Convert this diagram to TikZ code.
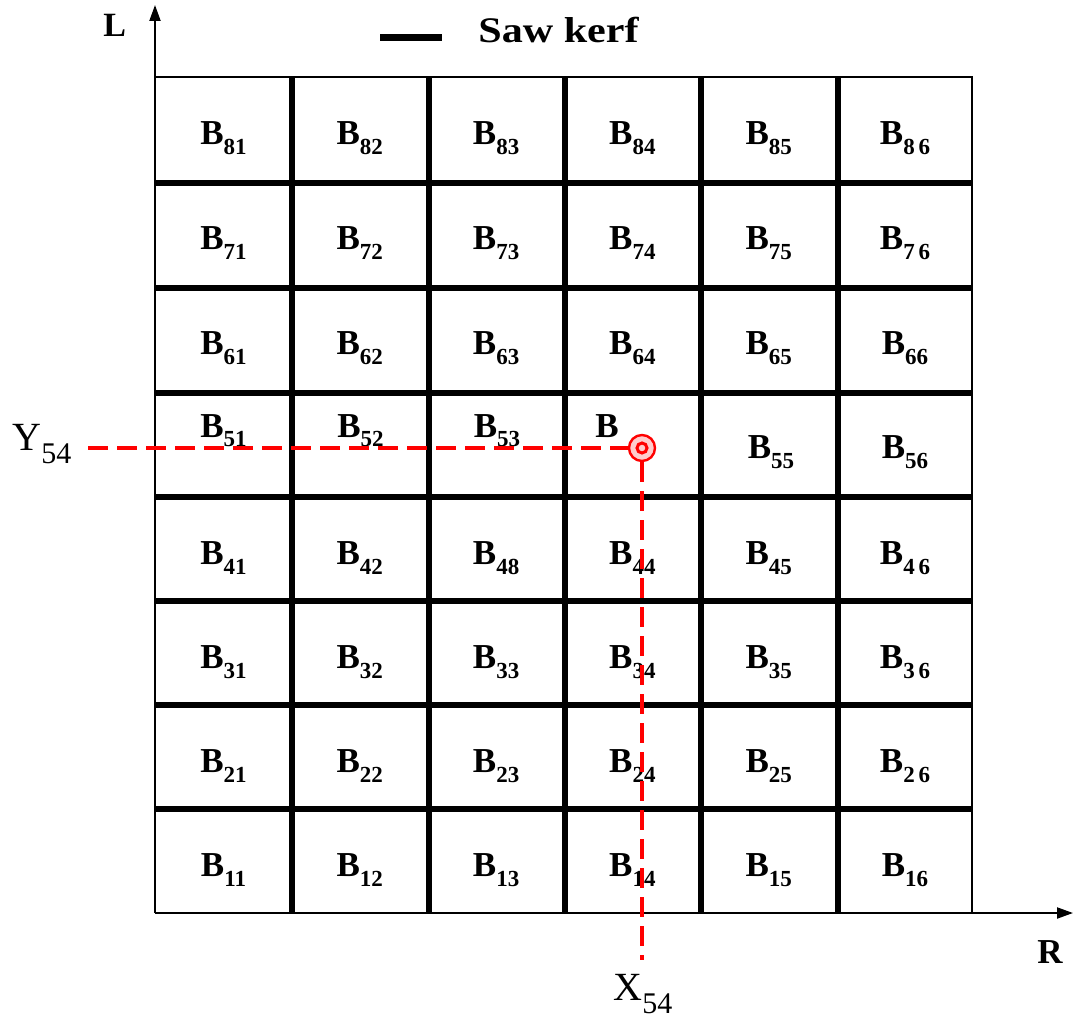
\documentclass[tikz,border=0pt]{standalone}
\usepackage{fontspec}
\setmainfont{Liberation Serif}
\usetikzlibrary{arrows.meta}

\newcommand{\blk}[1]{{\fontsize{17.5}{20}\selectfont\bfseries B\raisebox{-5pt}{\fontsize{11.5}{12}\selectfont #1}}}
\newcommand{\axlab}[2]{{\fontsize{20}{22}\selectfont #1\raisebox{-6.5pt}{\fontsize{15}{16}\selectfont #2}}}

\tikzset{
  kerf/.style={line width=3pt},
  edge/.style={line width=1pt},
  cut/.style={red, line width=1.9pt, dash pattern=on 10pt off 4.5pt},
  lbl/.style={inner sep=0pt}
}

\begin{document}
\begin{tikzpicture}[x=0.5pt,y=-0.5pt,>={Triangle[length=8pt,width=5.5pt]}]
    \useasboundingbox (0,0) rectangle (1075,1021);

    \coordinate (o) at (155,913);
    \coordinate (ltip) at (155,5);
    \coordinate (rtip) at (1073,913);
    \draw[edge,->] (o) -- (ltip);
    \draw[edge,->] (o) -- (rtip);
    \draw[edge] (155,77) -- (972,77) -- (972,913);

    \foreach \x in {292,429,565,701,838} {
      \draw[kerf] (\x,77) -- (\x,913);
    }
    \foreach \y in {183,288,393,497,601,705,809} {
      \draw[kerf] (155,\y) -- (972,\y);
    }

    \foreach \r/\y/\s in {8/145/{81,82,83,84,85,8\,6},7/250/{71,72,73,74,75,7\,6},
        6/355/{61,62,63,64,65,66},4/564/{41,42,48,44,45,4\,6},3/668/{31,32,33,34,35,3\,6},
        2/772/{21,22,23,24,25,2\,6},1/876/{11,12,13,14,15,16}} {
      \foreach \t [count=\c] in \s {
        \node[lbl,anchor=base] (b\r\c) at ({223.5+(\c-1)*136.3},\y) {\blk{\t}};
      }
    }
    \node[lbl,anchor=base] (b51) at (223.5,437) {\blk{51}};
    \node[lbl,anchor=base] (b52) at (360.5,437) {\blk{52}};
    \node[lbl,anchor=base] (b53) at (497,437) {\blk{53}};
    \node[lbl,anchor=base] (b54) at (607,437) {\fontsize{17.5}{20}\selectfont\bfseries B};
    \node[lbl,anchor=base] (b55) at (771,458) {\blk{55}};
    \node[lbl,anchor=base] (b56) at (905,458) {\blk{56}};

    \draw[line width=3.5pt] (380,38) -- (442,38);
    \node[lbl,anchor=base west] (kerflab) at (478,43) {\scalebox{1.17}[1]{\fontsize{18}{20}\selectfont\bfseries Saw kerf}};
    \node[lbl,anchor=base west] (lab-l) at (103,37) {\fontsize{17}{20}\selectfont\bfseries L};
    \node[lbl,anchor=base west] (lab-r) at (1037,963) {\fontsize{17.5}{20}\selectfont\bfseries R};

    \node[circle,draw=red,fill=red!20,line width=1.2pt,minimum size=13pt,inner sep=0pt] (p54) at (642,448) {};
    \draw[red,line width=1.5pt] (p54) circle (5);
    \coordinate (yend) at (88,448);
    \coordinate (xend) at (642,960);
    \draw[cut] (yend) -- (p54);
    \draw[cut] (p54) -- (xend);
    \node[lbl,anchor=base west] (y54) at (12,450) {\axlab{Y}{54}};
    \node[lbl,anchor=base west] (x54) at (613,1000) {\axlab{X}{54}};
\end{tikzpicture}
\end{document}
